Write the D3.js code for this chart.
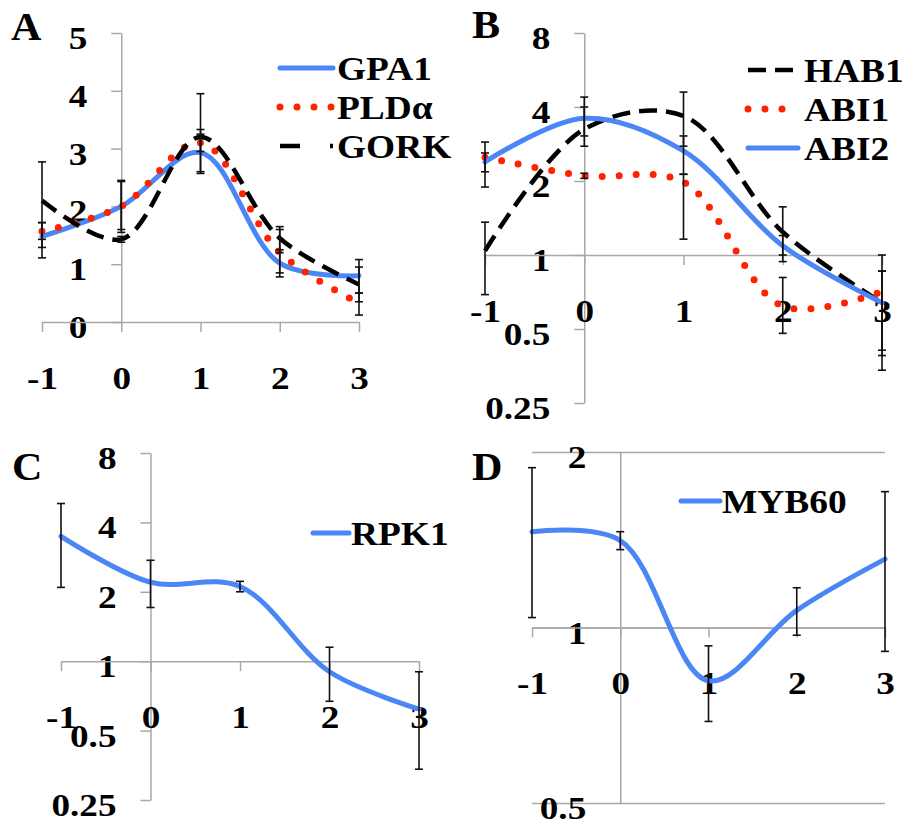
<!DOCTYPE html>
<html>
<head>
<meta charset="utf-8">
<script src="https://cdn.jsdelivr.net/npm/d3@7"></script>
<style>
  body { margin: 0; background: #fff; }
  svg { display: block; }
  svg text { font-family: "Liberation Serif", serif; font-weight: bold; }
</style>
</head>
<body>
<div id="chart"></div>
<script>
// Time points shared by all four panels
const days = [-1, 0, 1, 2, 3];
const dayTicks = ["-1", "0", "1", "2", "3"];

// Panel A (linear y)
const gpa1 = [1.48, 2.0, 2.93, 1.02, 0.8];
const gpa1Lo = [1.29, 1.55, 2.57, 0.85, 0.5];
const gpa1Hi = [1.72, 2.45, 3.33, 1.2, 1.08];
const pld = [1.57, 2.0, 3.1, 1.2, 0.33];
const pldLo = [1.11, 1.6, 2.95, 0.78, 0.12];
const pldHi = [1.72, 2.43, 3.25, 1.6, 0.5];
const gork = [2.1, 1.43, 3.2, 1.45, 0.65];
const gorkLo = [1.43, 1.38, 2.6, 1.25, 0.35];
const gorkHi = [2.77, 1.48, 3.95, 1.65, 0.95];
const ticksA = [0, 1, 2, 3, 4, 5];

// Panel B (log2 y)
const hab1 = [1.04, 3.25, 3.68, 1.24, 0.64];
const hab1Lo = [0.69, 2.77, 2.77, 0.94, 0.41];
const hab1Hi = [1.36, 4.0, 4.6, 1.57, 1.0];
const abi1 = [2.5, 2.1, 1.98, 0.62, 0.71];
const abi1Lo = [2.18, 2.05, 1.16, 0.48, 0.34];
const abi1Hi = [2.88, 2.15, 2.13, 0.81, 0.86];
const abi2 = [2.39, 3.6, 2.65, 1.09, 0.64];
const abi2Lo = [1.89, 3.05, 2.13, 1.0, 0.39];
const abi2Hi = [2.6, 4.39, 3.05, 1.2, 0.86];
const ticksLog = [0.25, 0.5, 1, 2, 4, 8];

// Panel C (log2 y)
const rpk1 = [3.48, 2.2, 2.11, 0.9, 0.62];
const rpk1Lo = [2.09, 1.71, 2.0, 0.67, 0.34];
const rpk1Hi = [4.83, 2.74, 2.22, 1.15, 0.9];

// Panel D (log2 y)
const myb60 = [1.46, 1.41, 0.81, 1.07, 1.31];
const myb60Lo = [1.04, 1.36, 0.69, 0.97, 0.91];
const myb60Hi = [1.88, 1.46, 0.93, 1.17, 1.71];
const ticksD = [0.5, 1, 2];

const FONT = "Liberation Serif";
const AXIS_COLOR = "#a8a8a8";
const STRETCH = 1.2;

const styles = {
  blue: { color: "#4a86f5", width: 5, dash: null, cap: "round" },
  red: { color: "#ff2200", width: 7, dash: "0 17", cap: "round" },
  black: { color: "#000", width: 4.5, dash: "18 9", cap: "butt" }
};

const svg = d3.select("#chart").append("svg")
  .attr("width", 906)
  .attr("height", 821)
  .attr("font-family", FONT)
  .style("background", "#fff");

function stretchedText(parent, x, y, txt, size, anchor, sx) {
  return parent.append("text")
    .attr("transform", `translate(${x},${y}) scale(${sx},1)`)
    .attr("text-anchor", anchor)
    .attr("font-family", FONT)
    .attr("font-weight", "bold")
    .attr("font-size", size)
    .text(txt);
}

function styleAxis(g) {
  g.attr("font-family", FONT).attr("font-size", 31);
  g.selectAll("path.domain").attr("stroke", AXIS_COLOR).attr("stroke-width", 1.5);
  g.selectAll(".tick line").attr("stroke", AXIS_COLOR).attr("stroke-width", 1.5);
  g.selectAll("text")
    .attr("fill", "#000")
    .attr("font-family", FONT)
    .attr("font-weight", "bold")
    .attr("font-size", 31);
}

function drawPanel(p) {
  const g = svg.append("g");
  const x = d3.scaleLinear().domain([-1, 3]).range(p.xRange);
  const y = p.log
    ? d3.scaleLog().base(2).domain(p.yDomain).range(p.yRange)
    : d3.scaleLinear().domain(p.yDomain).range(p.yRange);

  // optional horizontal gridlines (panel D)
  if (p.grid) {
    const grid = g.append("g")
      .attr("transform", `translate(${x(-1)},0)`)
      .call(d3.axisLeft(y).tickValues(p.yTicks).tickSize(-(x(3) - x(-1))).tickFormat(""));
    grid.select("path.domain").remove();
    grid.selectAll(".tick line").attr("stroke", AXIS_COLOR).attr("stroke-width", 1.5);
  }

  // y axis crosses at day 0
  const yAxis = g.append("g")
    .attr("transform", `translate(${x(0)},0)`)
    .call(d3.axisLeft(y)
      .tickValues(p.yTicks)
      .tickSize(p.grid ? 0 : 10)
      .tickSizeOuter(0)
      .tickFormat(d => String(d)));
  styleAxis(yAxis);
  yAxis.selectAll("text")
    .attr("x", -34 / STRETCH)
    .attr("dy", "0.5em")
    .attr("transform", `scale(${STRETCH},1)`);

  // x axis crosses at the baseline value
  const xAxis = g.append("g")
    .attr("transform", `translate(0,${y(p.xCross)})`)
    .call(d3.axisBottom(x)
      .tickValues(days)
      .tickSize(10)
      .tickSizeOuter(0)
      .tickFormat((d, i) => dayTicks[i]));
  styleAxis(xAxis);
  xAxis.selectAll("text")
    .attr("y", 67)
    .attr("dy", 0)
    .attr("transform", `scale(${STRETCH},1)`);

  // smoothed series
  const line = d3.line()
    .x((d, i) => x(days[i]))
    .y(d => y(d))
    .curve(d3.curveCatmullRom);

  p.series.forEach(s => {
    const st = styles[s.style];
    g.append("path")
      .datum(s.values)
      .attr("d", line)
      .attr("fill", "none")
      .attr("stroke", st.color)
      .attr("stroke-width", st.width)
      .attr("stroke-linecap", st.cap)
      .attr("stroke-dasharray", st.dash);
  });

  // error bars on top
  p.series.forEach(s => {
    days.forEach((d, i) => {
      const cx = x(d);
      g.append("line")
        .attr("x1", cx).attr("x2", cx)
        .attr("y1", y(s.lo[i])).attr("y2", y(s.hi[i]))
        .attr("stroke", "#111").attr("stroke-width", 1.6);
      [s.lo[i], s.hi[i]].forEach(v => {
        g.append("line")
          .attr("x1", cx - 4).attr("x2", cx + 4)
          .attr("y1", y(v)).attr("y2", y(v))
          .attr("stroke", "#111").attr("stroke-width", 1.6);
      });
    });
  });

  // legend
  p.series.forEach((s, i) => {
    const st = styles[s.style];
    const ly = p.legend.y + i * 39;
    g.append("line")
      .attr("x1", p.legend.x0).attr("x2", p.legend.x1)
      .attr("y1", ly).attr("y2", ly)
      .attr("stroke", st.color)
      .attr("stroke-width", st.width)
      .attr("stroke-linecap", st.cap)
      .attr("stroke-dasharray", s.legendDash || st.dash);
    stretchedText(g, p.legend.tx, ly + 12, s.name, 34, "start", 1.1);
  });

  // panel letter
  stretchedText(g, p.letter.x, p.letter.y, p.letter.text, 39, "start", 1.08);
}

drawPanel({
  xRange: [42, 359], yDomain: [0, 5], yRange: [322, 33], log: false,
  yTicks: ticksA, xCross: 0,
  series: [
    { name: "GPA1", values: gpa1, lo: gpa1Lo, hi: gpa1Hi, style: "blue" },
    { name: "PLDα", values: pld, lo: pldLo, hi: pldHi, style: "red" },
    { name: "GORK", values: gork, lo: gorkLo, hi: gorkHi, style: "black", legendDash: "20 30" }
  ],
  legend: { x0: 280, x1: 333, tx: 337, y: 68 },
  letter: { x: 11, y: 40, text: "A" }
});

drawPanel({
  xRange: [485, 882], yDomain: [0.25, 8], yRange: [403, 33], log: true,
  yTicks: ticksLog, xCross: 1,
  series: [
    { name: "HAB1", values: hab1, lo: hab1Lo, hi: hab1Hi, style: "black" },
    { name: "ABI1", values: abi1, lo: abi1Lo, hi: abi1Hi, style: "red" },
    { name: "ABI2", values: abi2, lo: abi2Lo, hi: abi2Hi, style: "blue" }
  ],
  legend: { x0: 748, x1: 798, tx: 804, y: 70 },
  letter: { x: 472, y: 38, text: "B" }
});

drawPanel({
  xRange: [61, 419], yDomain: [0.25, 8], yRange: [800, 453], log: true,
  yTicks: ticksLog, xCross: 1,
  series: [
    { name: "RPK1", values: rpk1, lo: rpk1Lo, hi: rpk1Hi, style: "blue" }
  ],
  legend: { x0: 313, x1: 349, tx: 351, y: 533 },
  letter: { x: 12, y: 480, text: "C" }
});

drawPanel({
  xRange: [532, 885], yDomain: [0.5, 2], yRange: [803, 452], log: true,
  yTicks: ticksD, xCross: 1, grid: true,
  series: [
    { name: "MYB60", values: myb60, lo: myb60Lo, hi: myb60Hi, style: "blue" }
  ],
  legend: { x0: 681, x1: 720, tx: 722, y: 501 },
  letter: { x: 472, y: 480, text: "D" }
});
</script>
</body>
</html>
